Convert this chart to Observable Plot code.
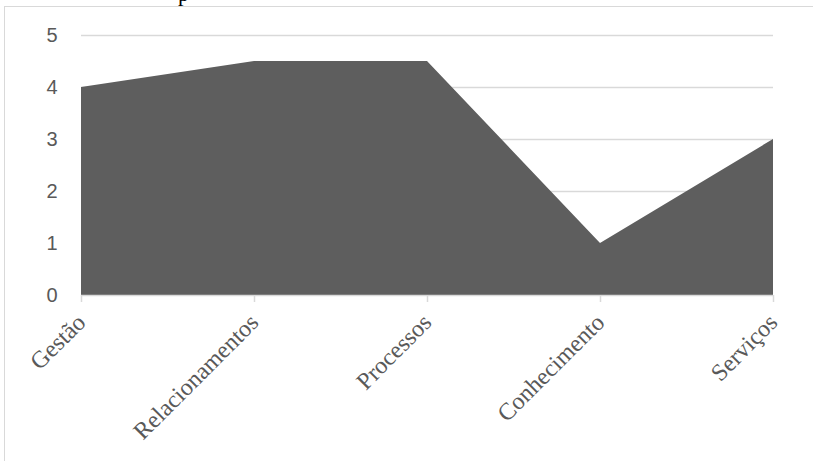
<!DOCTYPE html>
<html>
<head>
<meta charset="utf-8">
<script src="https://cdn.jsdelivr.net/npm/d3@7"></script>
<script src="https://cdn.jsdelivr.net/npm/@observablehq/plot@0.6"></script>
<style>
  html, body { margin: 0; padding: 0; background: #fff; overflow: hidden; }
  #wrap { position: relative; width: 813px; height: 461px; }
  #frame { position: absolute; left: 4px; top: 6px; width: 900px; height: 600px;
           border-left: 1.5px solid #d9d9d9; border-top: 1.5px solid #d9d9d9; box-sizing: border-box; }
  #frag { position: absolute; left: 178px; top: -19px; font: 22px "Liberation Serif", serif; color: #000; }
  #chart { position: absolute; left: 0; top: 0; }
</style>
</head>
<body>
<div id="wrap">
  <div id="frame"></div>
  <div id="frag">p</div>
  <div id="chart"></div>
</div>
<script>
const categories = ["Gestão", "Relacionamentos", "Processos", "Conhecimento", "Serviços"];
const values = [4, 4.5, 4.5, 1, 3];
const yTicks = [0, 1, 2, 3, 4, 5];

const data = categories.map((c, i) => ({cat: c, v: values[i]}));

const chart = Plot.plot({
  width: 813,
  height: 461,
  marginLeft: 81,
  marginRight: 40,
  marginTop: 35,
  marginBottom: 166,
  style: {background: "transparent"},
  x: {type: "point", domain: categories, padding: 0},
  y: {domain: [0, 5]},
  marks: [
    Plot.gridY(yTicks.slice(1), {stroke: "#d9d9d9", strokeOpacity: 1, strokeWidth: 1.5}),
    Plot.areaY(data, {x: "cat", y: "v", fill: "#5e5e5e"}),
    Plot.ruleY([0], {stroke: "#d9d9d9", strokeWidth: 1.5}),
    Plot.axisY(yTicks, {tickSize: 0, tickPadding: 24, fontSize: 20, fill: "#595959",
      tickFormat: d3.format("d"), fontFamily: "'Liberation Sans', sans-serif", label: null}),
    Plot.axisX({tickSize: 7, stroke: "#d9d9d9", strokeWidth: 1.5, tickRotate: -45, tickPadding: 16,
      fontSize: 24, fill: "#595959", fontFamily: "'Liberation Serif', serif", label: null})
  ]
});
document.getElementById("chart").appendChild(chart);
</script>
</body>
</html>
